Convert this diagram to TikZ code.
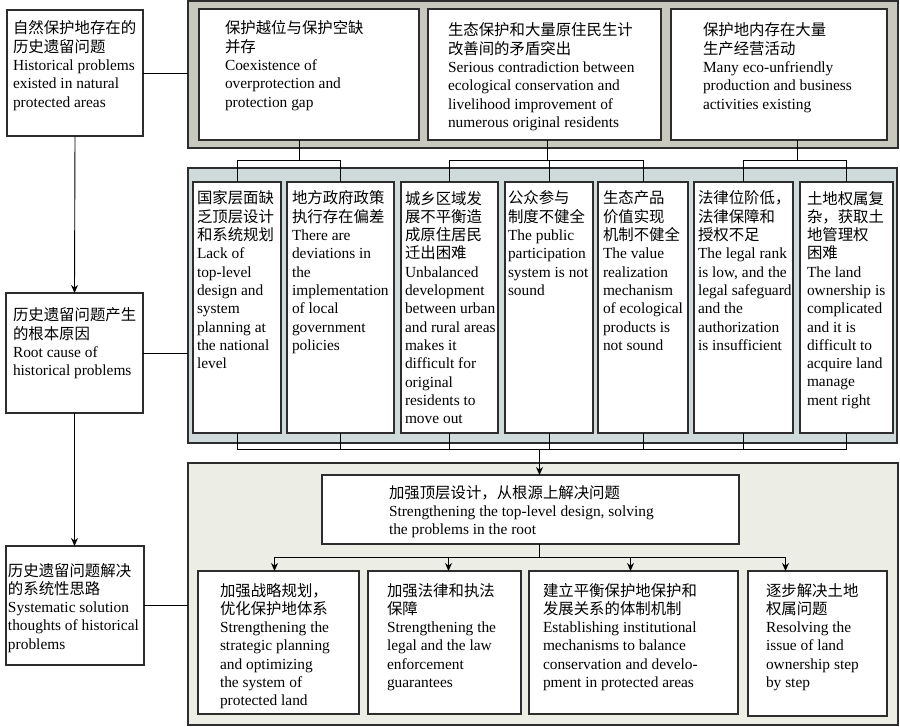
\documentclass[tikz,border=0pt]{standalone}
\usepackage{fontspec}
\setmainfont{Liberation Serif}
\newfontfamily\cjk{Noto Sans CJK SC}
\usetikzlibrary{arrows.meta,calc}

\definecolor{panelA}{RGB}{200,200,190}
\definecolor{panelB}{RGB}{207,219,219}
\definecolor{panelC}{RGB}{236,237,228}
\definecolor{edge}{RGB}{45,45,45}

\tikzset{
  panel/.style={draw=edge, line width=1.1pt, inner sep=0pt, outer sep=0pt},
  cell/.style={draw=edge, fill=white, line width=1.2pt, inner sep=0pt, outer sep=0pt},
  txt/.style={anchor=north west, inner sep=0pt, outer sep=0pt, align=left,
    font=\fontsize{15.4}{18.3}\selectfont},
  conn/.style={draw=black, line width=0.9pt},
  arr/.style={conn, -{Stealth[length=8pt,width=7pt]}}
}

% style, name, x1, y1, x2, y2
\newcommand\MyBox[6]{\node[#1, anchor=north west, minimum width={(#5-#3)*1pt}, minimum height={(#6-#4)*1pt}] (#2) at (#3,#4) {};}
% name, x, first baseline, text
\newcommand\MyTxt[4]{\node[txt] (#1) at (#2,#3-14) {\rule{0pt}{14pt}#4};}

\begin{document}
\begin{tikzpicture}[x=1pt,y=-1pt]
\useasboundingbox (0,0) rectangle (900,727);

% panels
\MyBox{panel,fill=panelA}{P1}{188}{1}{898}{148}
\MyBox{panel,fill=panelB}{P2}{188}{168}{897}{443}
\MyBox{panel,fill=panelC}{P3}{188}{463}{898}{725}

% left column
\MyBox{cell}{A}{7}{10}{143}{136}
\MyBox{cell}{B}{6}{293}{143}{413}
\MyBox{cell}{C}{6}{546}{144}{665}
\MyTxt{tA}{13}{34}{{\cjk 自然保护地存在的}\\{\cjk 历史遗留问题}\\Historical problems\\existed in natural\\protected areas}
\MyTxt{tB}{13}{321}{{\cjk 历史遗留问题产生}\\{\cjk 的根本原因}\\Root cause of\\historical problems}
\MyTxt{tC}{8}{576}{{\cjk 历史遗留问题解决}\\{\cjk 的系统性思路}\\Systematic solution\\thoughts of historical\\problems}

% top row
\MyBox{cell}{T1}{199}{9}{419}{140}
\MyBox{cell}{T2}{428}{9}{661}{140}
\MyBox{cell}{T3}{671}{9}{887}{140}
\MyTxt{tT1}{225}{34}{{\cjk 保护越位与保护空缺}\\{\cjk 并存}\\Coexistence of\\overprotection and\\protection gap}
\MyTxt{tT2}{448}{36}{{\cjk 生态保护和大量原住民生计}\\{\cjk 改善间的矛盾突出}\\Serious contradiction between\\ecological conservation and\\livelihood improvement of\\numerous original residents}
\MyTxt{tT3}{703}{36}{{\cjk 保护地内存在大量}\\{\cjk 生产经营活动}\\Many eco-unfriendly\\production and business\\activities existing}

% middle row
\MyBox{cell}{M1}{193}{182}{281}{433}
\MyBox{cell}{M2}{287}{182}{394}{433}
\MyBox{cell}{M3}{401}{182}{498}{433}
\MyBox{cell}{M4}{505}{182}{593}{433}
\MyBox{cell}{M5}{598}{182}{688}{433}
\MyBox{cell}{M6}{694}{182}{793}{433}
\MyBox{cell}{M7}{800}{182}{893}{433}
\MyTxt{tM1}{197}{204}{{\cjk 国家层面缺}\\{\cjk 乏顶层设计}\\{\cjk 和系统规划}\\Lack of\\top-level\\design and\\system\\planning at\\the national\\level}
\MyTxt{tM2}{292}{204}{{\cjk 地方政府政策}\\{\cjk 执行存在偏差}\\There are\\deviations in\\the\\implementation\\of local\\government\\policies}
\MyTxt{tM3}{405}{204}{{\cjk 城乡区域发}\\{\cjk 展不平衡造}\\{\cjk 成原住居民}\\{\cjk 迁出困难}\\Unbalanced\\development\\between urban\\and rural areas\\makes it\\difficult for\\original\\residents to\\move out}
\MyTxt{tM4}{508}{204}{{\cjk 公众参与}\\{\cjk 制度不健全}\\The public\\participation\\system is not\\sound}
\MyTxt{tM5}{603}{204}{{\cjk 生态产品}\\{\cjk 价值实现}\\{\cjk 机制不健全}\\The value\\realization\\mechanism\\of ecological\\products is\\not sound}
\MyTxt{tM6}{698}{204}{{\cjk 法律位阶低，}\\{\cjk 法律保障和}\\{\cjk 授权不足}\\The legal rank\\is low, and the\\legal safeguard\\and the\\authorization\\is insufficient}
\MyTxt{tM7}{807}{204}{{\cjk 土地权属复}\\{\cjk 杂，获取土}\\{\cjk 地管理权}\\{\cjk 困难}\\The land\\ownership is\\complicated\\and it is\\difficult to\\acquire land\\manage\\ment right}

% bottom panel
\MyBox{cell}{S0}{322}{475}{739}{544}
\MyBox{cell}{S1}{198}{571}{359}{714}
\MyBox{cell}{S2}{368}{571}{521}{714}
\MyBox{cell}{S3}{529}{571}{738}{714}
\MyBox{cell}{S4}{748}{571}{887}{716}
\MyTxt{tS0}{389}{498}{{\cjk 加强顶层设计，从根源上解决问题}\\Strengthening the top-level design, solving\\the problems in the root}
\MyTxt{tS1}{220}{596}{{\cjk 加强战略规划，}\\{\cjk 优化保护地体系}\\Strengthening the\\strategic planning\\and optimizing\\the system of\\protected land}
\MyTxt{tS2}{387}{596}{{\cjk 加强法律和执法}\\{\cjk 保障}\\Strengthening the\\legal and the law\\enforcement\\guarantees}
\MyTxt{tS3}{543}{596}{{\cjk 建立平衡保护地保护和}\\{\cjk 发展关系的体制机制}\\Establishing institutional\\mechanisms to balance\\conservation and develo-\\pment in protected areas}
\MyTxt{tS4}{766}{596}{{\cjk 逐步解决土地}\\{\cjk 权属问题}\\Resolving the\\issue of land\\ownership step\\by step}

% left column connectors
\draw[conn] (A.east) -- (A.east -| P1.west);
\draw[conn] (B.east) -- (B.east -| P2.west);
\draw[conn] (C.east) -- (C.east -| P3.west);
\draw[arr] (A.south) -- (B.north);
\draw[arr] (B.south) -- (B.south |- C.north);

% bus levels
\coordinate (busT) at (0,160);
\coordinate (busM) at (0,449);
\coordinate (busS) at (0,557);

% top row -> middle row
\coordinate (d1) at ($(T1.south)+(-10,0)$);
\coordinate (d2) at ($(T2.south)+(3,0)$);
\coordinate (d3) at ($(T3.south)+(18,0)$);
\draw[conn] (d1) -- (d1 |- busT);
\draw[conn] (M1.north) -- (M1.north |- busT) -- (M2.north |- busT) -- (M2.north);
\draw[conn] (d2) -- (d2 |- busT);
\draw[conn] (M3.north) -- (M3.north |- busT) -- (M5.north |- busT) -- (M5.north);
\draw[conn] (M4.north) -- (M4.north |- busT);
\draw[conn] (d3) -- (d3 |- busT);
\draw[conn] (M6.north) -- (M6.north |- busT) -- (M7.north |- busT) -- (M7.north);

% middle row -> solution
\draw[conn] (M1.south) -- (M1.south |- busM) -- (M7.south |- busM) -- (M7.south);
\foreach \m in {M2,M3,M4,M5,M6} { \draw[conn] (\m.south) -- (\m.south |- busM); }
\coordinate (s0in) at ($(S0.north)+(9,0)$);
\draw[arr] (s0in |- busM) -- (s0in);
\coordinate (s0out) at ($(S0.south)+(9,0)$);
\draw[conn] (s0out) -- (s0out |- busS);

% solution -> four measures
\coordinate (a1) at ($(S1.north)+(-4,0)$);
\coordinate (a2) at ($(S2.north)+(4,0)$);
\coordinate (a3) at ($(S3.north)+(-3,0)$);
\coordinate (a4) at ($(S4.north)+(-32,0)$);
\draw[conn] (a1 |- busS) -- (a4 |- busS);
\foreach \a in {a1,a2,a3,a4} { \draw[arr] (\a |- busS) -- (\a); }
\end{tikzpicture}
\end{document}
